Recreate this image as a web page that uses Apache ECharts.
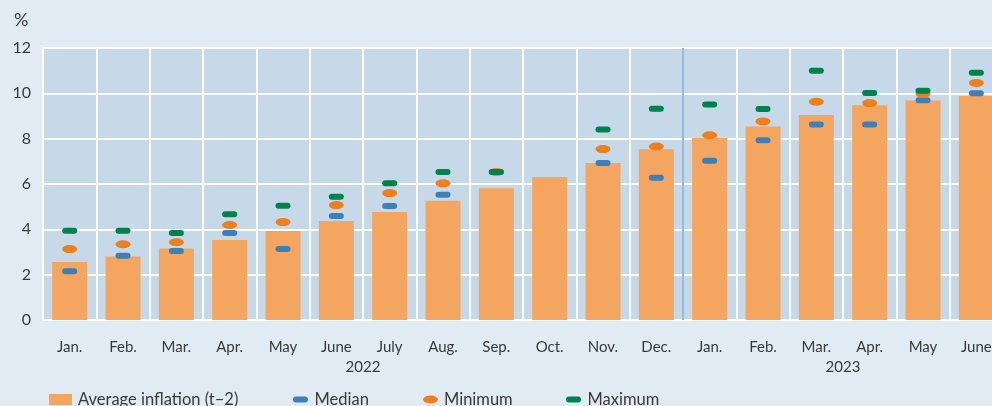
<!DOCTYPE html>
<html>
<head>
<meta charset="utf-8">
<script src="https://cdn.jsdelivr.net/npm/echarts@6/dist/echarts.min.js"></script>
<style>
    html, body { margin: 0; padding: 0; background: #e1ebf4; overflow: hidden; }
    /* the original plot runs past the right edge of the picture */
    #chart { width: 1010px; height: 406px; }
</style>
</head>
<body>
<div id="chart"></div>
<script>
// months Jan 2022 .. June 2023
var months = ['Jan.', 'Feb.', 'Mar.', 'Apr.', 'May', 'June', 'July', 'Aug.', 'Sep.', 'Oct.', 'Nov.', 'Dec.',
    'Jan.', 'Feb.', 'Mar.', 'Apr.', 'May', 'June'];
var avgInflation = [2.56, 2.8, 3.15, 3.53, 3.93, 4.37, 4.76, 5.26, 5.81, 6.31, 6.93, 7.53,
    8.03, 8.54, 9.04, 9.47, 9.68, 9.88];
var medianData = [2.15, 2.84, 3.04, 3.84, 3.13, 4.59, 5.03, 5.53, 6.53, null, 6.93, 6.28,
    7.03, 7.93, 8.62, 8.62, 9.7, 10.0];
var minimumData = [3.13, 3.34, 3.43, 4.19, 4.32, 5.07, 5.6, 6.03, 6.53, null, 7.54, 7.65,
    8.15, 8.76, 9.63, 9.57, 9.97, 10.46];
var maximumData = [3.94, 3.94, 3.84, 4.66, 5.04, 5.44, 6.03, 6.53, 6.53, null, 8.4, 9.32,
    9.51, 9.31, 11.0, 10.01, 10.11, 10.91];
var yearLabels = { 6: '2022', 15: '2023' };
var yearBreak = 12;

var pill = 'path://M3,0 H12 A3,3 0 0,1 12,6 H3 A3,3 0 0,1 3,0 Z';
var ellipse = 'path://M0,4 A7.5,4 0 1,1 15,4 A7.5,4 0 1,1 0,4 Z';
var font = 'Lato';
var txt = '#3a3a3a';

var myChart = echarts.init(document.getElementById('chart'));

function legendItem(name, icon, left, w, h) {
    return {
        data: [{ name: name, icon: icon }],
        left: left,
        top: 386,
        itemWidth: w,
        itemHeight: h,
        textStyle: { fontFamily: font, fontSize: 16.5, color: txt, padding: [0, 0, 0, 1] },
        selectedMode: false
    };
}

var option = {
    animation: false,
    backgroundColor: '#e1ebf4',
    title: {
        text: '%',
        left: 9,
        top: 6,
        textStyle: { fontFamily: font, fontSize: 18, fontWeight: 'normal', color: txt }
    },
    legend: [
        legendItem('Average inflation (t\u20132)', 'rect', 44, 23, 11),
        legendItem('Median', pill, 288, 16, 6),
        legendItem('Minimum', ellipse, 418, 15, 8),
        legendItem('Maximum', pill, 561, 16, 6)
    ],
    grid: {
        left: 43,
        top: 48,
        width: 960,
        height: 272,
        show: true,
        backgroundColor: '#c6d9e8',
        borderWidth: 0
    },
    xAxis: [
        {
            type: 'category',
            data: months,
            axisLine: { show: false },
            axisTick: { show: false },
            axisLabel: { fontFamily: font, fontSize: 15, color: txt, margin: 20, interval: 0 },
            splitLine: { show: true, lineStyle: { color: '#ffffff', width: 2 } }
        },
        {
            type: 'value',
            min: 0,
            max: 18,
            interval: 3,
            position: 'bottom',
            axisLine: { show: false },
            axisTick: { show: false },
            splitLine: { show: false },
            axisLabel: {
                fontFamily: font, fontSize: 15, color: txt, margin: 40,
                formatter: function (v) { return yearLabels[v] || ''; }
            }
        }
    ],
    yAxis: {
        type: 'value',
        min: 0,
        max: 12,
        interval: 2,
        axisLine: { show: false },
        axisTick: { show: false },
        axisLabel: { fontFamily: font, fontSize: 16, color: txt, margin: 12 },
        splitLine: { lineStyle: { color: '#ffffff', width: 2 } }
    },
    series: [
        {
            name: 'Average inflation (t\u20132)',
            type: 'bar',
            data: avgInflation,
            barWidth: 35,
            itemStyle: { color: '#f4a55f' }
        },
        {
            name: 'year break',
            type: 'line',
            xAxisIndex: 1,
            data: [[yearBreak, 0], [yearBreak, 12]],
            symbol: 'none',
            lineStyle: { color: '#4f8cc6', width: 1.2 }
        },
        {
            name: 'Median',
            type: 'scatter',
            data: medianData,
            symbol: pill,
            symbolSize: [15, 6],
            itemStyle: { color: '#3d80b8', opacity: 1 }
        },
        {
            name: 'Minimum',
            type: 'scatter',
            data: minimumData,
            symbol: ellipse,
            symbolSize: [15, 8],
            itemStyle: { color: '#ef7f1c', opacity: 1 }
        },
        {
            name: 'Maximum',
            type: 'scatter',
            data: maximumData,
            symbol: pill,
            symbolSize: [15, 6],
            itemStyle: { color: '#00834a', opacity: 1 }
        }
    ]
};

myChart.setOption(option);
</script>
</body>
</html>
